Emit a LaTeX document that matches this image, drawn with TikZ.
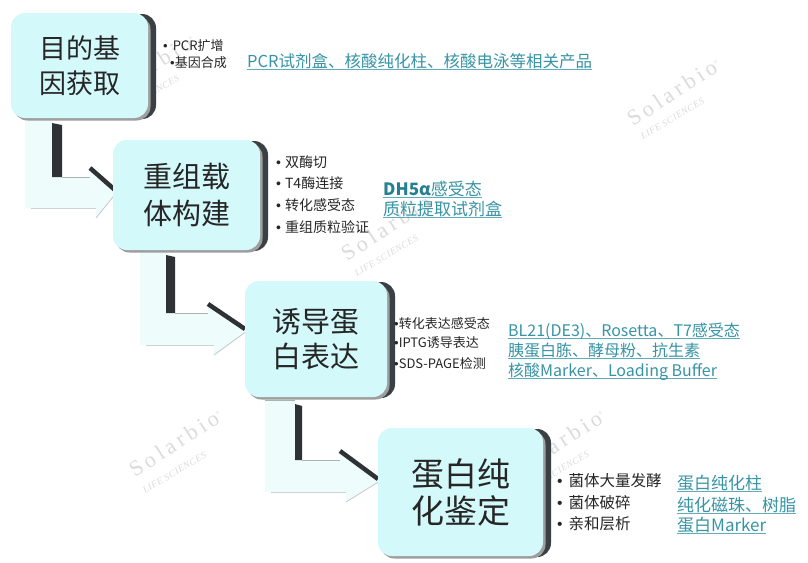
\documentclass[tikz,border=0pt]{standalone}
\usepackage{fontspec}
\setmainfont{Noto Sans CJK SC}
\newfontfamily\latinf{Liberation Sans}
\newfontfamily\wmfont[LetterSpace=18]{Liberation Serif}
\newfontfamily\wmsmall[LetterSpace=6]{Liberation Serif}
\usetikzlibrary{shadows}
\definecolor{boxfill}{RGB}{211,249,251}
\definecolor{sidedark}{RGB}{58,64,68}
\definecolor{arrface}{RGB}{238,252,252}
\definecolor{armdark}{RGB}{46,50,52}
\definecolor{armedge}{RGB}{170,178,178}
\definecolor{lnkcol}{RGB}{55,148,165}
\definecolor{lnkbold}{RGB}{38,128,146}
\definecolor{ulcol}{RGB}{95,172,186}
\newcommand\ulk[1]{\setbox0\hbox{#1}\rlap{\color{ulcol}\rule[-2.5pt]{\wd0}{1pt}}\box0}
\newcommand\bu{{\latinf •}}
% bent 3D arrow: xl, xb, xbw, yt, ya, yb, xh, tipx, tipy
\newcommand\bentarrow[9]{%
  \fill[arrface] (#1,#4) -- (#2,#4) -- (#2,#5) -- (#7,#5) -- (#7,#5-9) -- (#8,#9)
     -- (#7+6,#6+10) -- (#7+6,#6) -- (#1,#6) -- cycle;
  \draw[armedge, line width=0.8pt] (#1,#4) -- (#2,#4);
  \fill[armdark] (#2,#4+4) -- (#3,#4+6) -- (#3,#5) -- (#2,#5) -- cycle;
  \draw[armedge, line width=1pt] (#3,#5) -- (#7,#5);
  \draw[armdark, line width=4.5pt] (#7,#5-9) -- (#8-2,#9-2);
  \draw[armedge!70, line width=0.8pt] (#7+6,#6+10) -- (#8,#9);
  \draw[armedge!60, line width=0.8pt] (#1+6,#6) -- (#7+6,#6);
}
\tikzset{
  box/.style={fill=boxfill, rounded corners=14pt, inner sep=0pt, align=center, text=black!85,
    general shadow={fill=sidedark, shadow xshift=8pt, shadow yshift=-1pt},
    general shadow={fill=black!38, shadow xshift=2.5pt, shadow yshift=-2.5pt}},
  bul/.style={anchor=base west, inner sep=0pt, text=black!85},
  lnk/.style={anchor=base west, inner sep=0pt, text=lnkcol},
  wm/.style={anchor=base west, inner sep=0pt, rotate=33, text=black!14,
    font=\wmfont\fontsize{22}{22}\selectfont},
  wms/.style={anchor=base west, inner sep=0pt, rotate=31, text=black!14,
    font=\wmsmall\itshape\fontsize{9.5}{9.5}\selectfont}
}
\begin{document}
\begin{tikzpicture}[x=1pt,y=-1pt]
\useasboundingbox (0,0) rectangle (808,562);
\fill[white] (0,0) rectangle (808,562);
% watermarks
\node[wm] (w1) at (633,127) {Solarbio\textsuperscript{\tiny ®}};
\node[wms] (w1l) at (643,140) {LIFE SCIENCES};
\node[wm] (w2) at (135,478) {Solarbio\textsuperscript{\tiny ®}};
\node[wms] (w2l) at (145,494) {LIFE SCIENCES};
\node[wm] (w3) at (347,262) {Solarbio\textsuperscript{\tiny ®}};
\node[wms] (w3l) at (357,277) {LIFE SCIENCES};
\node[wm] (w4) at (518,478) {Solarbio\textsuperscript{\tiny ®}};
\node[wms] (w4l) at (528,493) {LIFE SCIENCES};
\node[wm] (w5) at (108,103) {Solarbio\textsuperscript{\tiny ®}};
\node[wms] (w5l) at (118,117) {LIFE SCIENCES};
% bent arrows
\bentarrow{25}{52}{62}{119}{177}{208}{90}{117}{192}
\bentarrow{140}{166}{175}{251}{313}{345}{208}{247}{331}
\bentarrow{265}{295}{302}{400}{460}{492}{340}{380}{481}
% boxes
\node[box, minimum width=137pt, minimum height=105pt,
  font=\fontsize{27}{35}\selectfont] (b1) at (79.5,65.5) {目的基\\因获取};
\node[box, minimum width=147pt, minimum height=110pt,
  font=\fontsize{29}{37}\selectfont] (b2) at (186.5,195) {重组载\\体构建};
\node[box, minimum width=142pt, minimum height=116pt,
  font=\fontsize{29}{35}\selectfont] (b3) at (316,339) {诱导蛋\\白表达};
\node[box, minimum width=165pt, minimum height=128pt,
  font=\fontsize{33}{37}\selectfont] (b4) at (460.5,492) {蛋白纯\\化鉴定};
% bullets
\begin{scope}[font=\fontsize{13}{15}\selectfont]
\node[bul] (p11) at (163,50) {\bu{}\hspace{5pt}PCR扩增};
\node[bul] (p12) at (170,67) {\bu{}基因合成};
\end{scope}
\begin{scope}[font=\fontsize{14}{16}\selectfont]
\node[bul] (p21) at (276,167.5) {\bu{}\hspace{4pt}双酶切};
\node[bul] (p22) at (276,188.5) {\bu{}\hspace{4pt}T4酶连接};
\node[bul] (p23) at (276,210) {\bu{}\hspace{4pt}转化感受态};
\node[bul] (p24) at (276,232) {\bu{}\hspace{4pt}重组质粒验证};
\end{scope}
\begin{scope}[font=\fontsize{13}{15}\selectfont]
\node[bul] (p31) at (394,328) {\bu{}转化表达感受态};
\node[bul] (p32) at (394,347.5) {\bu{}IPTG诱导表达};
\node[bul] (p33) at (394,368) {\bu{}SDS-PAGE检测};
\end{scope}
\begin{scope}[font=\fontsize{15.5}{17}\selectfont]
\node[bul] (p41) at (557,486) {\bu{}\hspace{6pt}菌体大量发酵};
\node[bul] (p42) at (557,508) {\bu{}\hspace{6pt}菌体破碎};
\node[bul] (p43) at (557,529) {\bu{}\hspace{6pt}亲和层析};
\end{scope}
% product links
\node[lnk, font=\fontsize{16.5}{18}\selectfont] (l1) at (247,67.5) {\ulk{PCR试剂盒、核酸纯化柱、核酸电泳等相关产品}};
\begin{scope}[font=\fontsize{17}{19}\selectfont]
\node[lnk] (l21) at (383,195) {\ulk{\textcolor{lnkbold}{\bfseries DH5α}感受态}};
\node[lnk] (l22) at (383,215.5) {\ulk{质粒提取试剂盒}};
\end{scope}
\begin{scope}[font=\fontsize{16}{18}\selectfont]
\node[lnk] (l31) at (508,336) {\ulk{BL21(DE3)、Rosetta、T7感受态}};
\node[lnk] (l32) at (508,356) {\ulk{胰蛋白胨、酵母粉、抗生素}};
\node[lnk] (l33) at (508,376) {\ulk{核酸Marker、Loading Buffer}};
\end{scope}
\begin{scope}[font=\fontsize{17}{19}\selectfont]
\node[lnk] (l41) at (677,489) {\ulk{蛋白纯化柱}};
\node[lnk] (l42) at (677,511) {\ulk{纯化磁珠、树脂}};
\node[lnk] (l43) at (677,531) {\ulk{蛋白Marker}};
\end{scope}
\end{tikzpicture}
\end{document}
